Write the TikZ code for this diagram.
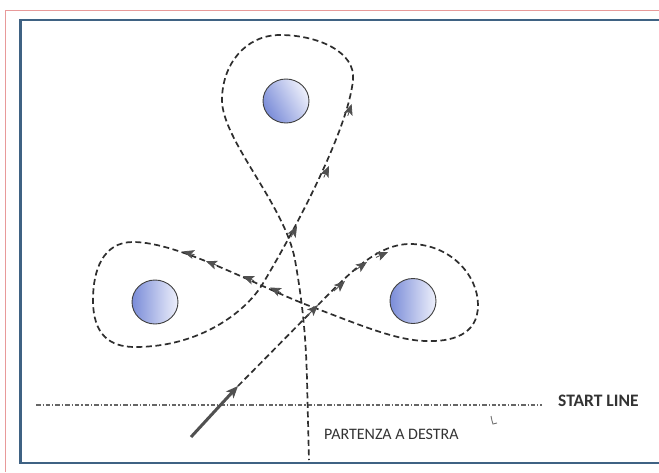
\documentclass[tikz,border=0pt]{standalone}
\usepackage{fontspec}
\setmainfont{Carlito}
\usetikzlibrary{arrows.meta}
\definecolor{framered}{HTML}{E89A9A}
\definecolor{frameblue}{HTML}{3F6283}
\definecolor{routegray}{HTML}{2E2E2E}
\definecolor{markgray}{HTML}{505050}
\definecolor{ballblue}{HTML}{7A8CD8}
\definecolor{ballwhite}{HTML}{EEF0FB}
\tikzset{
  route/.style={draw=routegray, line width=1.7pt, dash pattern=on 6pt off 3.5pt},
  amark/.style={draw=markgray, fill=markgray, line width=0.8pt, -{Stealth[length=11pt,width=9pt,inset=2.5pt]}},
  startarrow/.style={draw=markgray, line width=3pt, -{Stealth[length=12pt,width=10pt,inset=3pt]}},
  startline/.style={draw=black!60, line width=1.1pt, dash pattern=on 4.5pt off 2pt on 1.2pt off 2pt},
  ball/.style={draw=black!75, line width=0.9pt},
}
\begin{document}
\begin{tikzpicture}[x=1pt,y=-1pt]
\useasboundingbox (0,0) rectangle (659,472);
\fill[white] (0,0) rectangle (659,472);
% frames
\draw[framered, line width=1pt] (5.5,472) -- (5.5,10.5) -- (659,10.5);
\draw[frameblue, line width=2.2pt] (659,20) -- (20.5,20) -- (20.5,463) -- (659,463);
% buoys
\coordinate (btop) at (286,101);
\coordinate (bleft) at (155,302);
\coordinate (bright) at (413,301);
\shade[ball, left color=ballblue, right color=ballwhite, shading angle=120] (btop) ellipse [x radius=23, y radius=22];
\shade[ball, left color=ballblue, right color=ballwhite] (bleft) ellipse [x radius=23, y radius=22];
\shade[ball, left color=ballblue, right color=ballwhite] (bright) ellipse [x radius=23, y radius=22.5];
% start line
\coordinate (slA) at (36,405);
\coordinate (slB) at (542,405);
\draw[startline] (slA) -- (slB);
\node[anchor=base west, inner sep=0pt, text=black!80, font=\fontsize{17.5}{20}\selectfont\bfseries] (sltext) at (558,406.5) {START LINE};
\node[anchor=base west, inner sep=0pt, text=black!80, font=\fontsize{16}{18}\selectfont] (partenza) at (324,439) {PARTENZA A DESTRA};
% route
\coordinate (s0) at (191,437);
\coordinate (s1) at (238,386);
\coordinate (x1) at (315,308);
\coordinate (x2) at (262,285);
\draw[startarrow] (s0) -- (s1);
\draw[route] (s1) -- (x1)
  .. controls (345,278) and (375,244) .. (410,244)
  .. controls (450,244) and (478,275) .. (478,305)
  .. controls (478,335) and (452,342) .. (425,341)
  .. controls (395,340) and (360,325) .. (x1)
  .. controls (260,288) and (180,242) .. (133,242)
  .. controls (103,242) and (93,270) .. (93,300)
  .. controls (93,335) and (110,347) .. (135,347)
  .. controls (200,347) and (245,312) .. (x2)
  .. controls (295,230) and (348,130) .. (353,80)
  .. controls (356,52) and (318,35) .. (280,35)
  .. controls (245,35) and (222,65) .. (222,100)
  .. controls (222,140) and (285,205) .. (295,260)
  .. controls (303,305) and (306,340) .. (307,380) -- (309,460);
% direction marks (each a short stretch ending in a tip)
\draw[amark] (307,316) -- (318,305);
\draw[amark] (334,291) -- (345,281);
\draw[amark] (355,270.4) -- (367,262);
\draw[amark] (376,257.4) -- (388,252);
\draw[amark] (281,292.7) -- (270,287.5);
\draw[amark] (254,280.6) -- (243,276.2);
\draw[amark] (217,265.4) -- (206,261.2);
\draw[amark] (194.5,254.8) -- (183,251.4);
\draw[amark] (290.9,237.2) -- (297,226);
\draw[amark] (323.8,177.4) -- (329,166);
\draw[amark] (347.8,115.8) -- (351.6,104);
% stray tick
\draw[black!55, line width=0.9pt] (491,416) .. controls (492,421) .. (493,424) -- (497,423);
\end{tikzpicture}
\end{document}
